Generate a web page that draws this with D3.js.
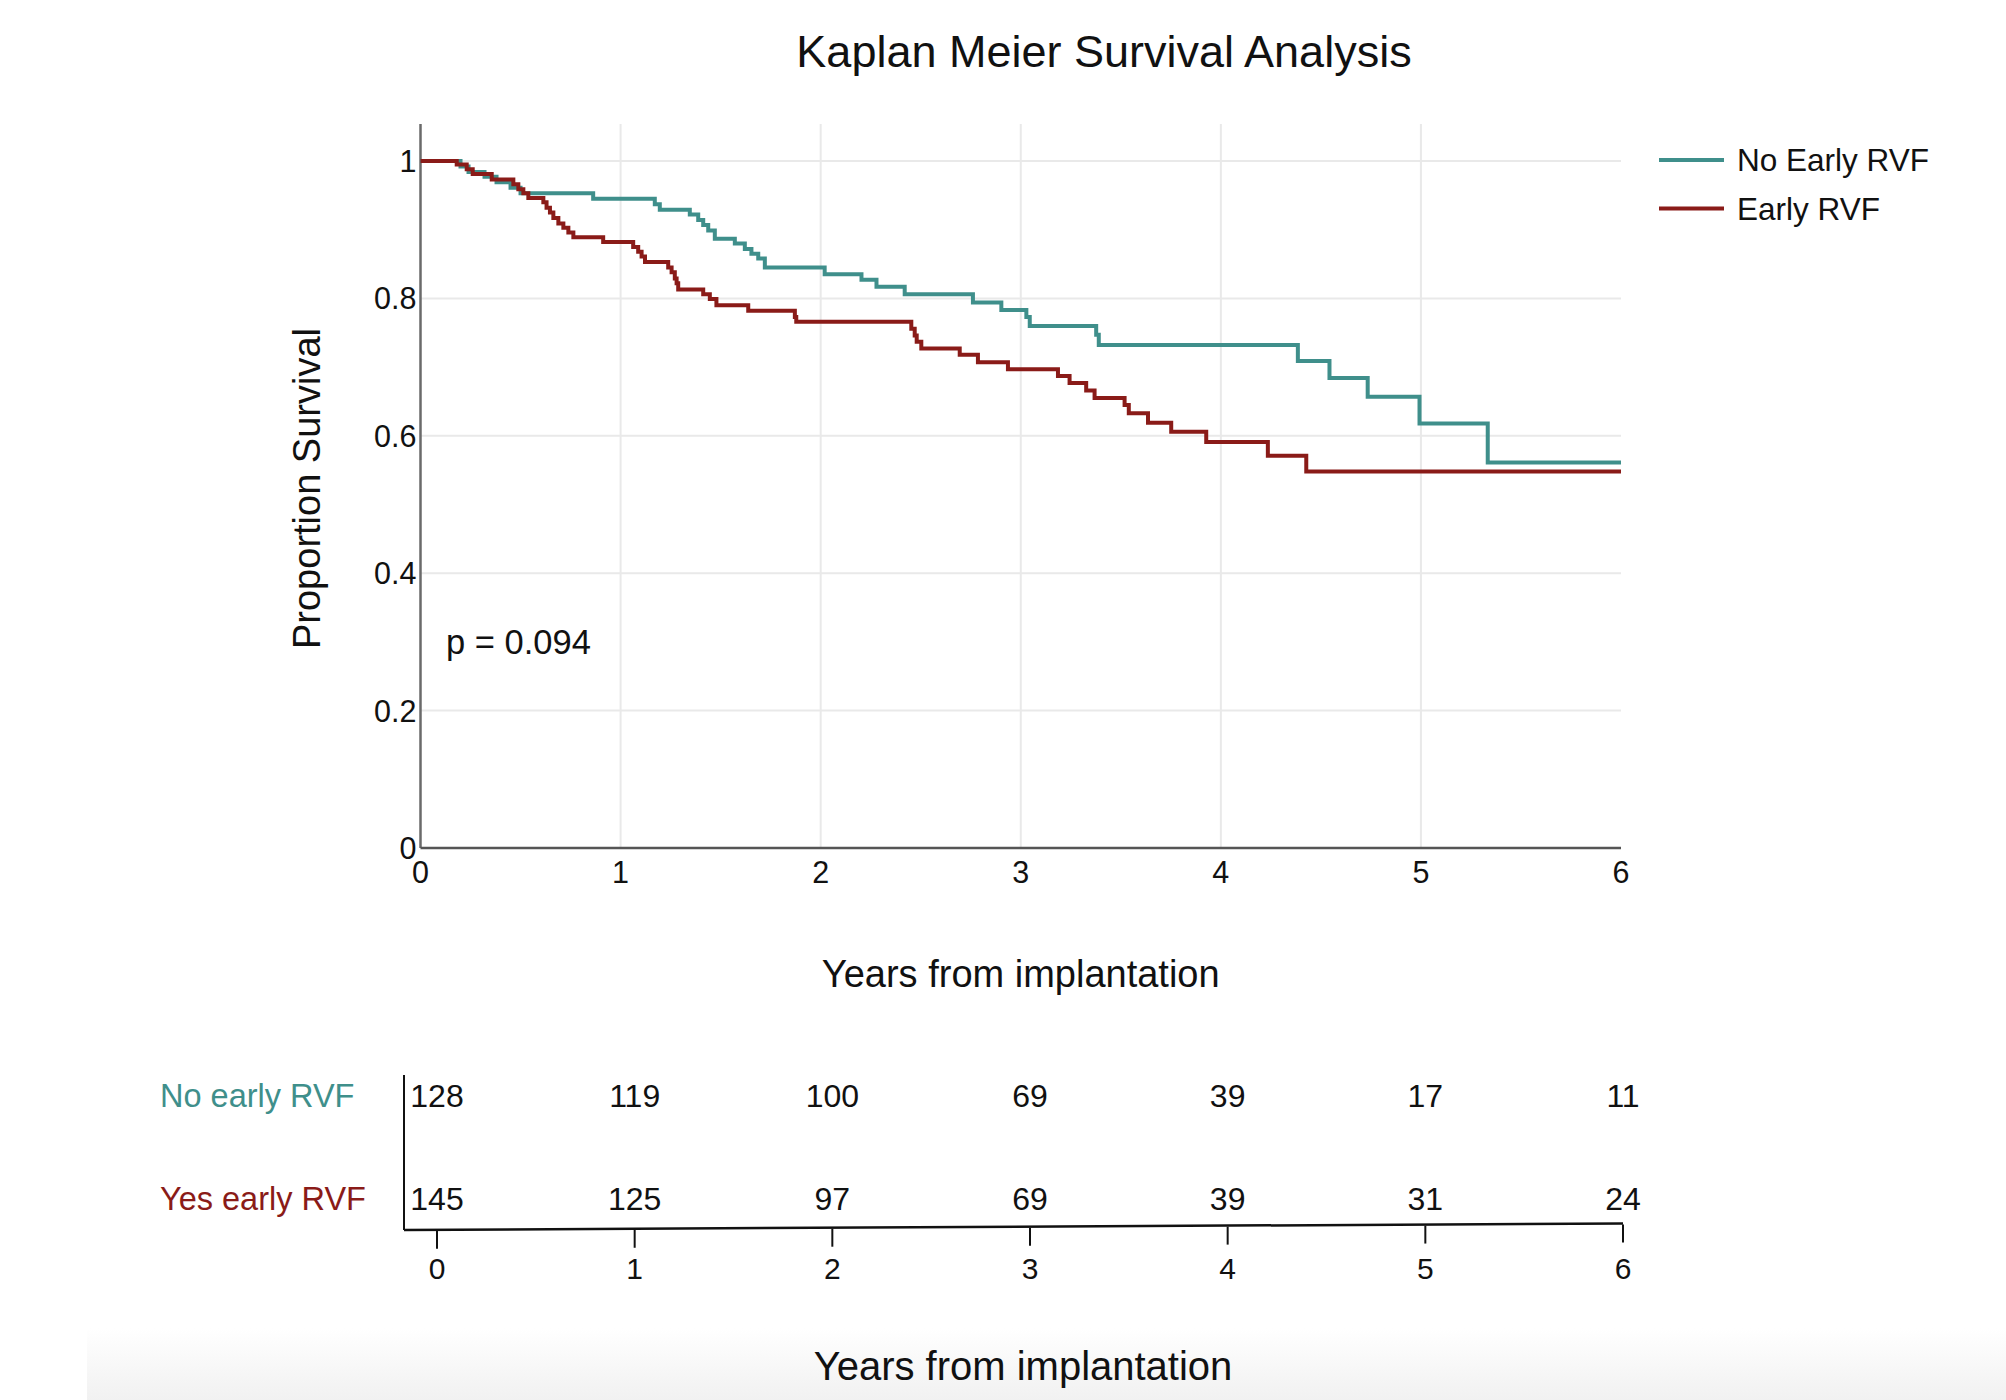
<!DOCTYPE html>
<html><head><meta charset="utf-8">
<script src="https://cdn.jsdelivr.net/npm/d3@7"></script>
<style>
body{margin:0;background:#fff;}
svg{display:block;}
text{font-family:"Liberation Sans",Arial,Helvetica,sans-serif;fill:#111;}
</style>
</head><body>
<svg id="c" width="2006" height="1400"></svg>
<script>
// ---- Data ----
const seriesNames = ["No Early RVF", "Early RVF"];
const noRvfTimes = [0, 0.20, 0.24, 0.32, 0.38, 0.45, 0.50, 0.863, 1.171, 1.196, 1.346, 1.388, 1.413, 1.438, 1.471, 1.571, 1.621, 1.654, 1.688, 1.721, 2.020, 2.204, 2.279, 2.420, 2.761, 2.903, 3.028, 3.045, 3.377, 3.390, 4.385, 4.543, 4.734, 4.993, 5.334, 6];
const noRvfSurv  = [1, 0.992, 0.984, 0.977, 0.969, 0.961, 0.953, 0.945, 0.937, 0.929, 0.922, 0.914, 0.907, 0.899, 0.887, 0.880, 0.872, 0.865, 0.858, 0.845, 0.835, 0.827, 0.817, 0.806, 0.794, 0.783, 0.773, 0.760, 0.747, 0.732, 0.709, 0.684, 0.657, 0.618, 0.561, 0.561];
const rvfTimes = [0, 0.181, 0.231, 0.261, 0.356, 0.464, 0.489, 0.514, 0.539, 0.614, 0.630, 0.647, 0.664, 0.689, 0.714, 0.739, 0.764, 0.913, 1.063, 1.088, 1.105, 1.122, 1.238, 1.255, 1.271, 1.280, 1.288, 1.413, 1.446, 1.479, 1.638, 1.871, 1.878, 2.453, 2.470, 2.480, 2.503, 2.695, 2.786, 2.936, 3.186, 3.244, 3.327, 3.369, 3.519, 3.540, 3.636, 3.752, 3.927, 4.235, 4.427, 6];
const rvfSurv  = [1, 0.995, 0.988, 0.981, 0.973, 0.966, 0.959, 0.953, 0.946, 0.940, 0.932, 0.925, 0.917, 0.909, 0.903, 0.896, 0.889, 0.882, 0.875, 0.868, 0.861, 0.853, 0.845, 0.838, 0.829, 0.822, 0.813, 0.806, 0.799, 0.790, 0.782, 0.773, 0.766, 0.756, 0.746, 0.737, 0.727, 0.718, 0.707, 0.697, 0.687, 0.677, 0.666, 0.655, 0.645, 0.633, 0.619, 0.606, 0.591, 0.571, 0.548, 0.548];
const xTicks = [0, 1, 2, 3, 4, 5, 6];
const yTicks = [0, 0.2, 0.4, 0.6, 0.8, 1];
const yTickLabels = ["0", "0.2", "0.4", "0.6", "0.8", "1"];
const riskRowLabels = ["No early RVF", "Yes early RVF"];
const riskTimes = [0, 1, 2, 3, 4, 5, 6];
const riskNoRvf = [128, 119, 100, 69, 39, 17, 11];
const riskRvf   = [145, 125, 97, 69, 39, 31, 24];
const pText = "p = 0.094";

// ---- Styles ----
const TEAL = "#3f8f8b", RED = "#8a1b18";
const svg = d3.select("#c");

// background band at the bottom
const defs = svg.append("defs");
const grad = defs.append("linearGradient").attr("id","band").attr("x1",0).attr("y1",0).attr("x2",0).attr("y2",1);
grad.append("stop").attr("offset","0%").attr("stop-color","#ffffff");
grad.append("stop").attr("offset","100%").attr("stop-color","#f1f1f1");
svg.append("rect").attr("x",87).attr("y",1328).attr("width",1919).attr("height",72).attr("fill","url(#band)");

// ---- Main plot ----
const x = d3.scaleLinear().domain([0, 6]).range([420.5, 1621]);
const y = d3.scaleLinear().domain([0, 1]).range([848, 161]);
const yTopPx = 124;

const g = svg.append("g");
// grid
g.selectAll(".hg").data(yTicks.filter(d => d > 0)).join("line")
  .attr("x1", x(0)).attr("x2", x(6)).attr("y1", d => y(d)).attr("y2", d => y(d))
  .attr("stroke", "#e9e9e9").attr("stroke-width", 2);
g.selectAll(".vg").data(xTicks.filter(d => d > 0 && d < 6)).join("line")
  .attr("x1", d => x(d)).attr("x2", d => x(d)).attr("y1", y(0)).attr("y2", yTopPx)
  .attr("stroke", "#e9e9e9").attr("stroke-width", 2);

// axes lines
g.append("line").attr("x1", x(0)).attr("x2", x(0)).attr("y1", yTopPx).attr("y2", y(0))
  .attr("stroke", "#6a6a6a").attr("stroke-width", 2.5);
g.append("line").attr("x1", x(0)).attr("x2", x(6)).attr("y1", y(0)).attr("y2", y(0))
  .attr("stroke", "#555").attr("stroke-width", 2.5);

// tick labels
g.selectAll(".yl").data(yTicks).join("text")
  .attr("x", x(0) - 4).attr("y", d => y(d)).attr("dy", "0.36em")
  .attr("text-anchor", "end").attr("font-size", 30.5).text((d, i) => yTickLabels[i]);
g.selectAll(".xl").data(xTicks).join("text")
  .attr("x", d => x(d)).attr("y", 883)
  .attr("text-anchor", "middle").attr("font-size", 30.5).text(d => d);

// curves
const line = d3.line().x(d => x(d[0])).y(d => y(d[1])).curve(d3.curveStepAfter);
const noRvf = noRvfTimes.map((t, i) => [t, noRvfSurv[i]]);
const rvf = rvfTimes.map((t, i) => [t, rvfSurv[i]]);
g.append("path").datum(noRvf).attr("d", line).attr("fill", "none").attr("stroke", TEAL).attr("stroke-width", 4);
g.append("path").datum(rvf).attr("d", line).attr("fill", "none").attr("stroke", RED).attr("stroke-width", 4);

// titles
svg.append("text").attr("x", 1104).attr("y", 67).attr("text-anchor", "middle").attr("font-size", 45)
  .text("Kaplan Meier Survival Analysis");
svg.append("text").attr("transform", "translate(320," + ((161 + 848) / 2 - 16) + ") rotate(-90)")
  .attr("text-anchor", "middle").attr("font-size", 38).text("Proportion Survival");
svg.append("text").attr("x", (x(0) + x(6)) / 2).attr("y", 987).attr("text-anchor", "middle").attr("font-size", 38)
  .text("Years from implantation");
svg.append("text").attr("x", 446).attr("y", 654).attr("font-size", 34.5).text(pText);

// legend
const colors = [TEAL, RED];
const lg = svg.append("g");
seriesNames.forEach((n, i) => {
  const ly = 160 + i * 48.5;
  lg.append("line").attr("x1", 1659).attr("x2", 1724).attr("y1", ly).attr("y2", ly)
    .attr("stroke", colors[i]).attr("stroke-width", 4);
  lg.append("text").attr("x", 1737).attr("y", ly).attr("dy", "0.36em").attr("font-size", 31.5).text(n);
});

// ---- Risk table ----
const xr = d3.scaleLinear().domain([0, 6]).range([437, 1623]);
const tLeft = 404, tTop = 1075, yAxisLeft = 1230, yAxisRight = 1223.5;
const tRight = xr(6);
const lineYAt = px => yAxisLeft + (yAxisRight - yAxisLeft) * (px - tLeft) / (tRight - tLeft);
const rt = svg.append("g");
rt.append("line").attr("x1", tLeft).attr("x2", tLeft).attr("y1", tTop).attr("y2", yAxisLeft)
  .attr("stroke", "#111").attr("stroke-width", 2);
rt.append("line").attr("x1", tLeft).attr("x2", tRight).attr("y1", yAxisLeft).attr("y2", yAxisRight)
  .attr("stroke", "#111").attr("stroke-width", 2.5);
rt.selectAll(".rtk").data(riskTimes).join("line")
  .attr("x1", d => xr(d)).attr("x2", d => xr(d))
  .attr("y1", d => lineYAt(xr(d)) + 1).attr("y2", d => lineYAt(xr(d)) + 19)
  .attr("stroke", "#111").attr("stroke-width", 2);
rt.selectAll(".rtl").data(riskTimes).join("text")
  .attr("x", d => xr(d)).attr("y", 1279).attr("text-anchor", "middle").attr("font-size", 30).text(d => d);

const rows = [riskNoRvf, riskRvf];
const rowY = [1095, 1198.5];
rows.forEach((vals, r) => {
  rt.append("text").attr("x", 160).attr("y", rowY[r]).attr("dy", "0.36em").attr("font-size", 32.5)
    .style("fill", colors[r]).text(riskRowLabels[r]);
  rt.selectAll(".rv" + r).data(vals).join("text")
    .attr("x", (d, i) => xr(riskTimes[i])).attr("y", rowY[r]).attr("dy", "0.36em")
    .attr("text-anchor", "middle").attr("font-size", 32).text(d => d);
});
svg.append("text").attr("x", 1023).attr("y", 1380).attr("text-anchor", "middle").attr("font-size", 40)
  .text("Years from implantation");
</script>
</body></html>
